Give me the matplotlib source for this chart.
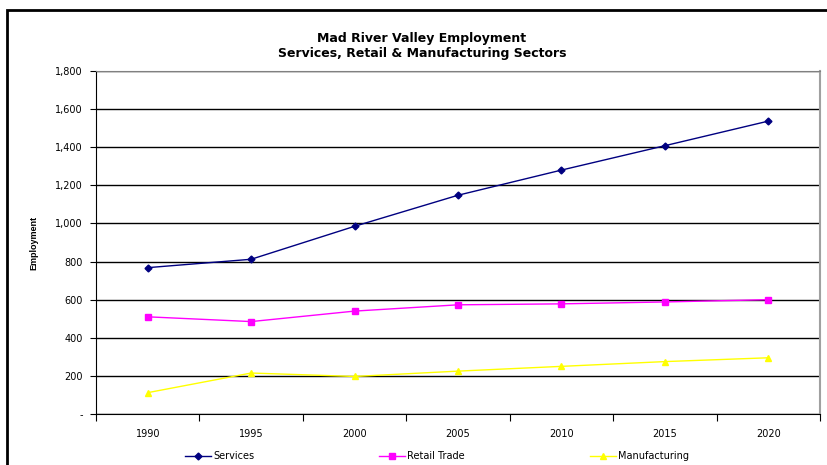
import matplotlib.pyplot as plt
from matplotlib.patches import Rectangle
from matplotlib.ticker import FuncFormatter

plt.rcParams['font.family'] = ['DejaVu Sans']

# données
years = ["1990", "1995", "2000", "2005", "2010", "2015", "2020"]
services = [768, 812, 985, 1148, 1280, 1408, 1537]
retail = [510, 485, 540, 573, 578, 588, 600]
manufacturing = [112, 215, 197, 225, 250, 275, 295]

fig = plt.figure(figsize=(8.28, 4.65), dpi=100)
ax = fig.add_axes([96/828, 51/465, 724/828, 343/465])

x = list(range(len(years)))
l1, = ax.plot(x, services, color="#000080", marker="D", markersize=3.5, linewidth=1, label="Services")
l2, = ax.plot(x, retail, color="#FF00FF", marker="s", markersize=5, linewidth=1, label="Retail Trade")
l3, = ax.plot(x, manufacturing, color="#FFFF00", marker="^", markersize=5, linewidth=1, label="Manufacturing")

ax.set_xlim(-0.5, len(years) - 0.5)
ax.set_ylim(0, 1800)
ax.set_yticks(range(0, 1801, 200))
ax.yaxis.set_major_formatter(FuncFormatter(lambda v, p: "-" if v == 0 else f"{int(v):,}"))
ax.grid(axis="y", color="black", linewidth=1)
ax.set_axisbelow(True)

# ticks entre les catégories
ax.set_xticks([i - 0.5 for i in range(len(years) + 1)])
ax.set_xticklabels([])
ax.set_xticks(x, minor=True)
ax.set_xticklabels(years, minor=True, fontsize=7)
ax.tick_params(axis="x", which="minor", length=0, pad=11)
ax.tick_params(axis="x", which="major", length=5, direction="out")
ax.tick_params(axis="y", length=4, direction="out", labelsize=7, pad=5.5)

ax.spines["left"].set_color("black")
ax.spines["bottom"].set_color("black")
ax.spines["top"].set_color("#808080")
ax.spines["right"].set_color("#a0a0a0")
ax.spines["right"].set_linewidth(1.5)

ax.set_ylabel("Employment", fontsize=6.5, fontweight="bold", labelpad=12, family="Liberation Sans")

fig.text(422/828, 1 - 38/465, "Mad River Valley Employment", ha="center", va="center",
         fontsize=9, fontweight="bold")
fig.text(422/828, 1 - 53/465, "Services, Retail & Manufacturing Sectors", ha="center", va="center",
         fontsize=9, fontweight="bold")

# légende en bas, une entrée à chaque position
for line, xpos in [(l1, 185), (l2, 379), (l3, 590)]:
    fig.legend([line], [line.get_label()], loc="center left", bbox_to_anchor=(xpos/828, 1 - 456/465),
               frameon=False, fontsize=7, handlelength=2.7, handletextpad=0.2, borderpad=0,
               borderaxespad=0)

# cadre extérieur
fig.patches.append(Rectangle((7/828, -0.1), 1.2, 1 - 10/465 + 0.1, transform=fig.transFigure,
                             fill=False, edgecolor="black", linewidth=2))

fig.savefig("out.png", dpi=100)
